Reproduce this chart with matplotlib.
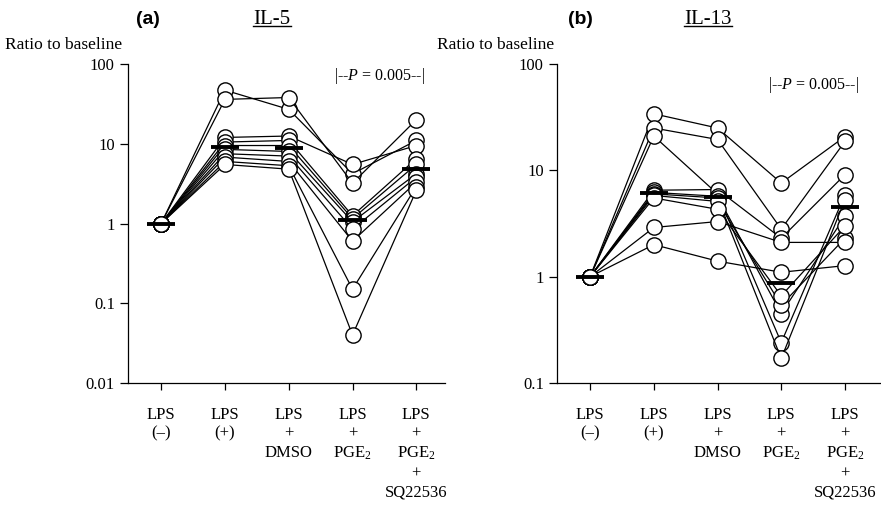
import numpy as np
import matplotlib
matplotlib.use("Agg")
from matplotlib import pyplot as plt

plt.rcParams['font.family'] = ['Liberation Serif', 'DejaVu Serif']
plt.rcParams['mathtext.fontset'] = 'custom'
plt.rcParams['mathtext.rm'] = 'Liberation Serif'
plt.rcParams['mathtext.it'] = 'Liberation Serif:italic'

groups = ['LPS\n(\u2013)', 'LPS\n(+)', 'LPS\n+\nDMSO', 'LPS\n+\nPGE$_2$', 'LPS\n+\nPGE$_2$\n+\nSQ22536']

# IL-5, one row per subject, columns = groups
il5 = [
    [1, 47, 27, 4.2, 11],
    [1, 36, 38, 3.2, 20],
    [1, 12, 12.5, 5.5, 9.5],
    [1, 10.5, 11, 1.25, 6.5],
    [1, 9.5, 9.5, 1.15, 5.5],
    [1, 8.5, 8, 1.05, 4.2],
    [1, 7.5, 7, 0.85, 3.8],
    [1, 6.8, 6, 0.6, 3.3],
    [1, 6.0, 5.3, 0.15, 2.9],
    [1, 5.5, 4.8, 0.04, 2.6],
]

# IL-13
il13 = [
    [1, 34, 25, 7.6, 20.8],
    [1, 25, 19.5, 2.8, 18.7],
    [1, 21, 6.0, 0.24, 5.9],
    [1, 6.5, 6.6, 2.3, 9.1],
    [1, 6.2, 5.7, 0.45, 3.7],
    [1, 6.0, 5.5, 0.17, 5.3],
    [1, 5.8, 5.1, 0.54, 2.3],
    [1, 5.5, 4.3, 0.66, 3.0],
    [1, 2.9, 3.3, 2.1, 2.1],
    [1, 2.0, 1.4, 1.1, 1.27],
]

fig = plt.figure(figsize=(8.81, 5.07), dpi=100)
ax_a = fig.add_axes([128/881, 1-383/507, 317/881, 319/507])
ax_b = fig.add_axes([557/881, 1-383/507, 323/881, 319/507])


def panel(ax, data, ylim, xright, yticks, ylabels):
    data = np.array(data)
    x = np.arange(data.shape[1])
    for row in data:
        ax.plot(x, row, '-o', color='black', lw=0.9, ms=11,
                mfc='white', mec='black', mew=1.0, zorder=2)
    med = np.median(data, axis=0)
    ax.hlines(med, x - 0.22, x + 0.22, color='black', lw=2.8, zorder=3)
    ax.set_yscale('log')
    ax.set_ylim(*ylim)
    ax.set_xlim(-0.52, xright)
    ax.set_yticks(yticks)
    ax.set_yticklabels(ylabels, fontsize=12)
    ax.minorticks_off()
    ax.set_xticks(x)
    ax.set_xticklabels(groups, fontsize=12, linespacing=1.25)
    ax.tick_params(axis='y', direction='out', length=6, width=0.9)
    ax.tick_params(axis='x', direction='out', length=5, width=0.9, pad=12)
    for s in ['top', 'right']:
        ax.spines[s].set_visible(False)
    for s in ['left', 'bottom']:
        ax.spines[s].set_linewidth(0.9)


panel(ax_a, il5, (0.01, 100), 4.45, [0.01, 0.1, 1, 10, 100], ['0.01', '0.1', '1', '10', '100'])
panel(ax_b, il13, (0.1, 100), 4.55, [0.1, 1, 10, 100], ['0.1', '1', '10', '100'])

fig.text(5/881, 1-45/507, 'Ratio to baseline', fontsize=12.5, va='center', ha='left')
fig.text(437/881, 1-45/507, 'Ratio to baseline', fontsize=12.5, va='center', ha='left')
fig.text(148/881, 1-20/507, '(a)', fontsize=14, fontweight='bold', family='Liberation Sans', ha='center', va='center')
fig.text(580/881, 1-20/507, '(b)', fontsize=14, fontweight='bold', family='Liberation Sans', ha='center', va='center')
t1 = fig.text(272/881, 1-19/507, 'IL-5', fontsize=15, ha='center', va='center')
t2 = fig.text(708/881, 1-19/507, 'IL-13', fontsize=15, ha='center', va='center')
fig.text(380/881, 1-76/507, r'|--$\mathit{P}$ = 0.005--|', fontsize=11.5, ha='center', va='center')
fig.text(814/881, 1-85/507, r'|--$\mathit{P}$ = 0.005--|', fontsize=11.5, ha='center', va='center')

# underline the titles
fig.canvas.draw()
r = fig.canvas.get_renderer()
for t in (t1, t2):
    bb = t.get_window_extent(r).transformed(fig.transFigure.inverted())
    fig.add_artist(plt.Line2D([bb.x0, bb.x1], [bb.y0 + 0.004, bb.y0 + 0.004],
                              color='black', lw=1.0, transform=fig.transFigure))

fig.savefig('out.png', dpi=100)
